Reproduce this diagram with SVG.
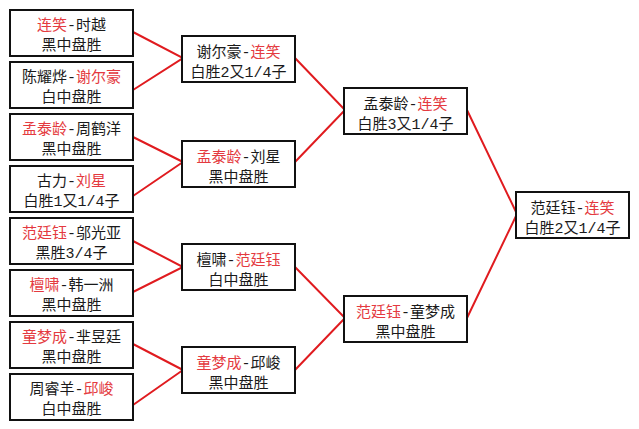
<svg xmlns="http://www.w3.org/2000/svg" width="639" height="429" viewBox="0 0 639 429">
<style>
.box{fill:#fff;stroke:#111;stroke-width:2}
.t{font-family:"Liberation Mono","Noto Sans CJK SC",monospace;font-size:15px;fill:#1a1a1a;text-anchor:middle}
.r{fill:#e43a40}
.wire{fill:none;stroke:#e01b1f;stroke-width:2}
</style>
<rect width="639" height="429" fill="#fff"/>
<g id="connectors">
<polyline class="wire" points="133,32 183,58 133,90"/>
<polyline class="wire" points="133,137 183,162 133,196"/>
<polyline class="wire" points="133,241 183,267 133,292"/>
<polyline class="wire" points="133,344 183,370 133,405"/>
<polyline class="wire" points="295,58 345,110 295,162"/>
<polyline class="wire" points="295,267 345,318 295,370"/>
<polyline class="wire" points="467,110 517,214 467,318"/>
</g>
<g id="r1-1"><rect class="box" x="10" y="10" width="123" height="46"/><text class="t" x="71.5" y="30"><tspan class="r">连笑</tspan>-时越</text><text class="t" x="71.5" y="49.5">黑中盘胜</text></g>
<g id="r1-2"><rect class="box" x="10" y="62" width="123" height="46"/><text class="t" x="71.5" y="82">陈耀烨-<tspan class="r">谢尔豪</tspan></text><text class="t" x="71.5" y="101.5">白中盘胜</text></g>
<g id="r1-3"><rect class="box" x="10" y="114" width="123" height="46"/><text class="t" x="71.5" y="134"><tspan class="r">孟泰龄</tspan>-周鹤洋</text><text class="t" x="71.5" y="153.5">黑中盘胜</text></g>
<g id="r1-4"><rect class="box" x="10" y="166" width="123" height="46"/><text class="t" x="71.5" y="186">古力-<tspan class="r">刘星</tspan></text><text class="t" x="71.5" y="205.5">白胜1又1/4子</text></g>
<g id="r1-5"><rect class="box" x="10" y="218" width="123" height="46"/><text class="t" x="71.5" y="238"><tspan class="r">范廷钰</tspan>-邬光亚</text><text class="t" x="71.5" y="257.5">黑胜3/4子</text></g>
<g id="r1-6"><rect class="box" x="10" y="270" width="123" height="46"/><text class="t" x="71.5" y="290"><tspan class="r">檀啸</tspan>-韩一洲</text><text class="t" x="71.5" y="309.5">黑中盘胜</text></g>
<g id="r1-7"><rect class="box" x="10" y="322" width="123" height="46"/><text class="t" x="71.5" y="342"><tspan class="r">童梦成</tspan>-芈昱廷</text><text class="t" x="71.5" y="361.5">黑中盘胜</text></g>
<g id="r1-8"><rect class="box" x="10" y="374" width="123" height="46"/><text class="t" x="71.5" y="394">周睿羊-<tspan class="r">邱峻</tspan></text><text class="t" x="71.5" y="413.5">白中盘胜</text></g>
<g id="r2-1"><rect class="box" x="182" y="36" width="113" height="46"/><text class="t" x="238.5" y="56.5">谢尔豪-<tspan class="r">连笑</tspan></text><text class="t" x="238.5" y="76.5">白胜2又1/4子</text></g>
<g id="r2-2"><rect class="box" x="182" y="141" width="113" height="46"/><text class="t" x="238.5" y="161.5"><tspan class="r">孟泰龄</tspan>-刘星</text><text class="t" x="238.5" y="181.5">黑中盘胜</text></g>
<g id="r2-3"><rect class="box" x="182" y="244" width="113" height="46"/><text class="t" x="238.5" y="264.5">檀啸-<tspan class="r">范廷钰</tspan></text><text class="t" x="238.5" y="284.5">白中盘胜</text></g>
<g id="r2-4"><rect class="box" x="182" y="347" width="113" height="46"/><text class="t" x="238.5" y="367.5"><tspan class="r">童梦成</tspan>-邱峻</text><text class="t" x="238.5" y="387.5">黑中盘胜</text></g>
<g id="r3-1"><rect class="box" x="344" y="88" width="123" height="46"/><text class="t" x="405.5" y="108.5">孟泰龄-<tspan class="r">连笑</tspan></text><text class="t" x="405.5" y="128.5">白胜3又1/4子</text></g>
<g id="r3-2"><rect class="box" x="344" y="296" width="123" height="46"/><text class="t" x="405.5" y="316.5"><tspan class="r">范廷钰</tspan>-童梦成</text><text class="t" x="405.5" y="336.5">黑中盘胜</text></g>
<g id="final"><rect class="box" x="516" y="192" width="113" height="46"/><text class="t" x="572.5" y="212.5">范廷钰-<tspan class="r">连笑</tspan></text><text class="t" x="572.5" y="232.5">白胜2又1/4子</text></g>
</svg>
